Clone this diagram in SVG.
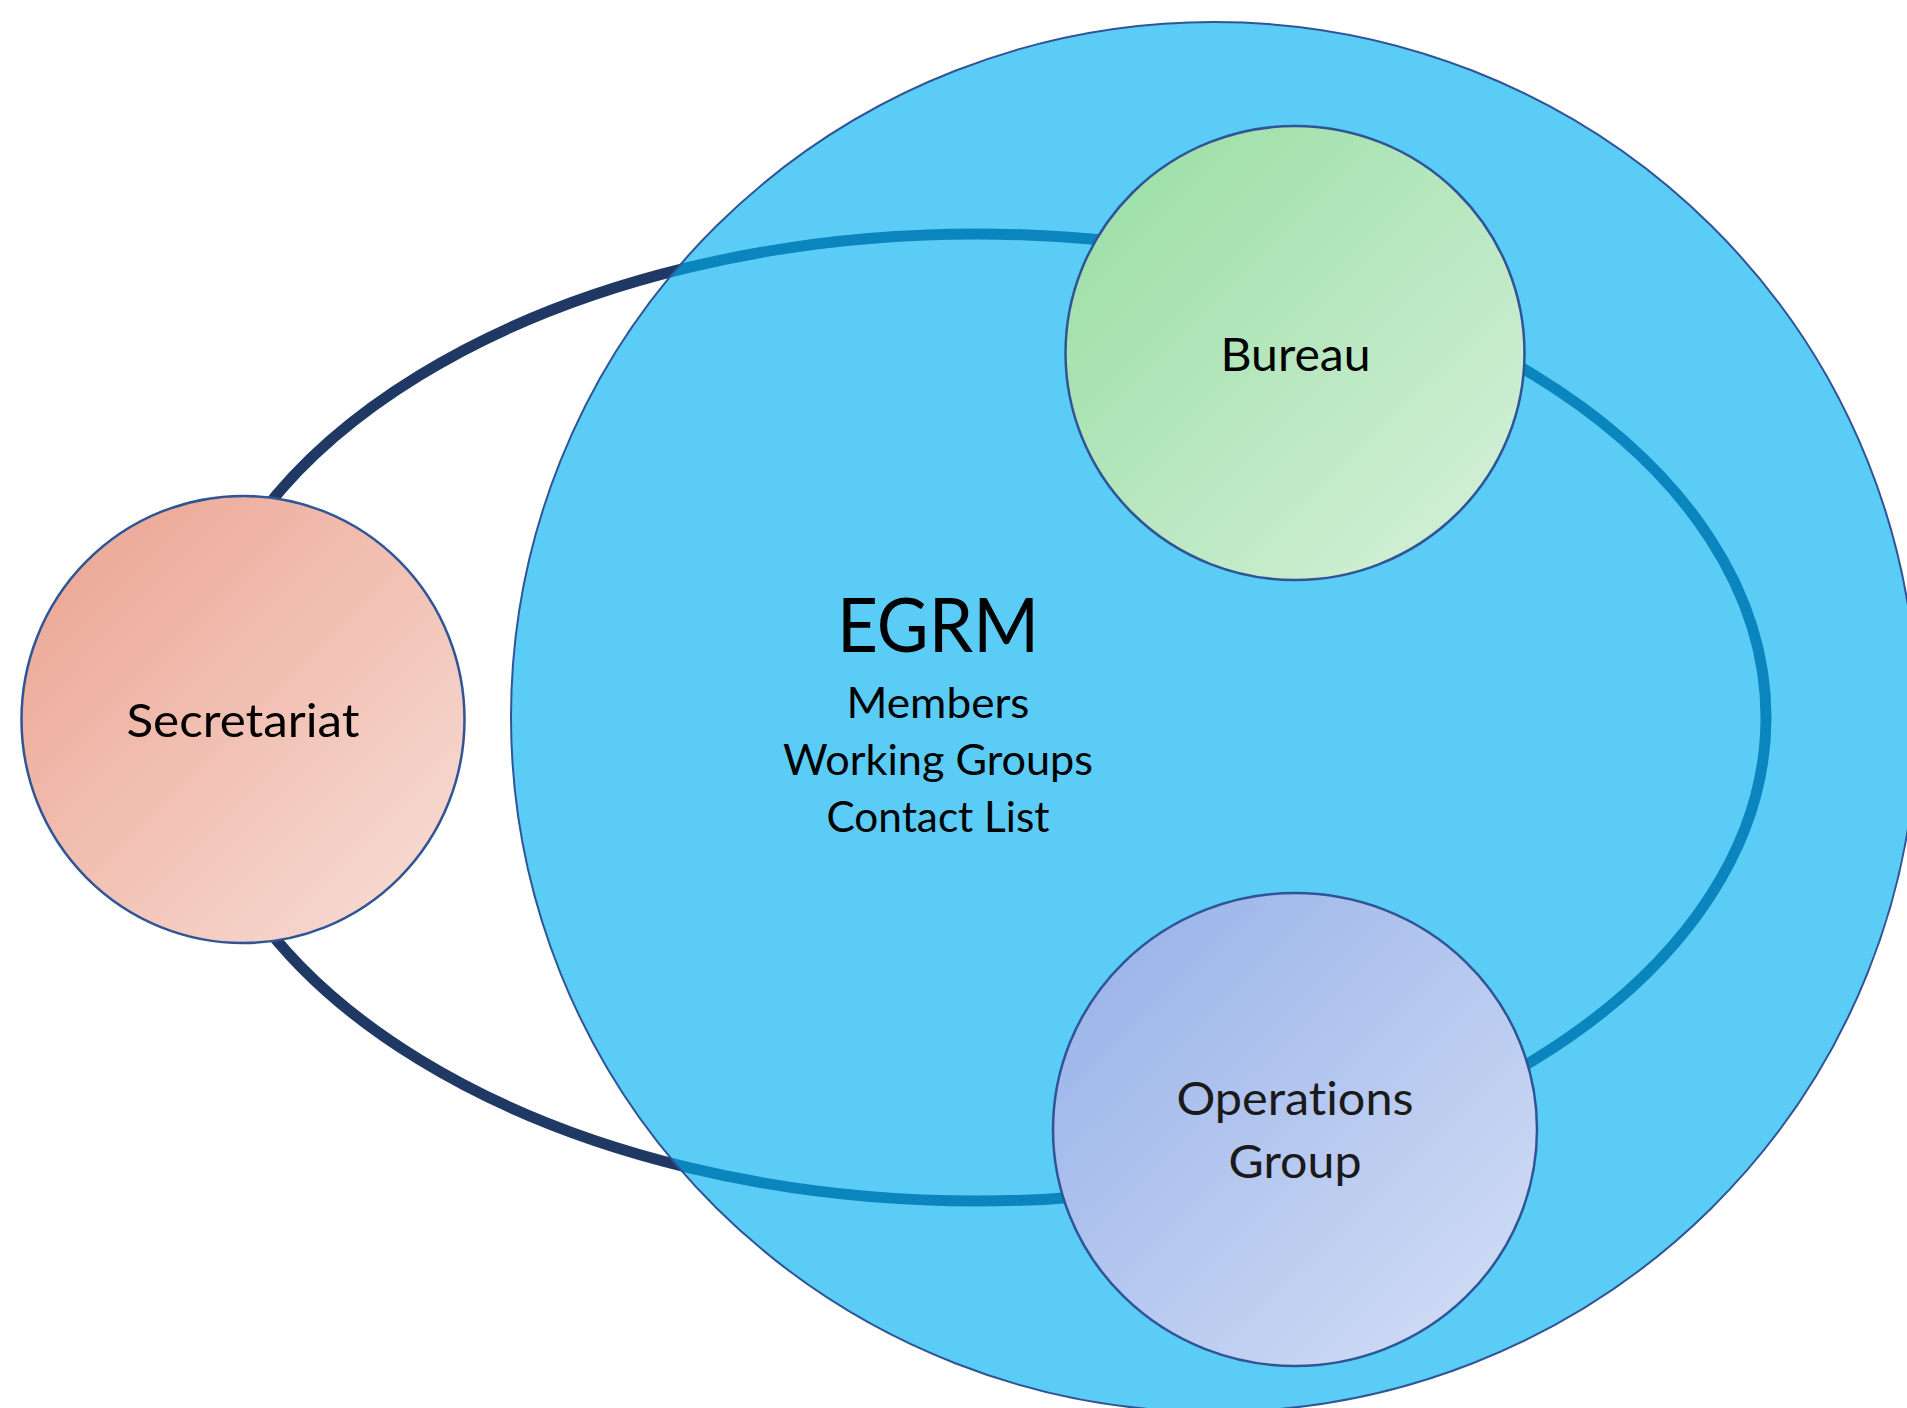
<svg xmlns="http://www.w3.org/2000/svg" width="1907" height="1408" viewBox="0 0 1907 1408">
  <style>
    .lbl { font-family: Lato, "Open Sans", "Liberation Sans", sans-serif; fill: #000; text-anchor: middle; font-variant-ligatures: none; }
    .node { stroke: #2F5597; stroke-width: 2.5; }
    .ring { fill: none; stroke: #1F3864; stroke-width: 11; }
  </style>
  <defs>
    <linearGradient id="gSec" x1="0" y1="0" x2="1" y2="1">
      <stop offset="0" stop-color="#EBA28F"/>
      <stop offset="1" stop-color="#F8DFD8"/>
    </linearGradient>
    <linearGradient id="gBur" x1="0" y1="0" x2="1" y2="1">
      <stop offset="0" stop-color="#96DDA1"/>
      <stop offset="1" stop-color="#D8F1DC"/>
    </linearGradient>
    <linearGradient id="gOps" x1="0" y1="0" x2="1" y2="1">
      <stop offset="0" stop-color="#94AFE8"/>
      <stop offset="1" stop-color="#D6E0F6"/>
    </linearGradient>
  </defs>
  <rect width="1907" height="1408" fill="#FFFFFF"/>

  <g id="connectors">
    <ellipse class="ring" cx="977" cy="717.5" rx="789" ry="483.5"/>
  </g>

  <g id="egrm">
    <ellipse cx="1214" cy="717" rx="703" ry="695" fill="#00B0F0" fill-opacity="0.643" stroke="#2F5597" stroke-width="2"/>
    <text class="lbl" x="938" y="652" font-size="76" textLength="202" lengthAdjust="spacingAndGlyphs">EGRM</text>
    <text class="lbl" x="938" y="718" font-size="42" textLength="183" lengthAdjust="spacingAndGlyphs">Members</text>
    <text class="lbl" x="938" y="775" font-size="42" textLength="310" lengthAdjust="spacingAndGlyphs">Working Groups</text>
    <text class="lbl" x="938" y="832" font-size="42" textLength="223" lengthAdjust="spacingAndGlyphs">Contact List</text>
  </g>

  <g id="secretariat">
    <ellipse class="node" cx="243" cy="719.5" rx="221.5" ry="223.5" fill="url(#gSec)"/>
    <text class="lbl" x="243" y="737" font-size="47" textLength="233" lengthAdjust="spacingAndGlyphs">Secretariat</text>
  </g>

  <g id="bureau">
    <ellipse class="node" cx="1295" cy="353" rx="229.5" ry="227" fill="url(#gBur)"/>
    <text class="lbl" x="1295.5" y="371" font-size="47" textLength="150" lengthAdjust="spacingAndGlyphs">Bureau</text>
  </g>

  <g id="operations-group">
    <ellipse class="node" cx="1295" cy="1129.5" rx="242" ry="236.5" fill="url(#gOps)"/>
    <text class="lbl" x="1295" y="1115" font-size="47" textLength="237" lengthAdjust="spacingAndGlyphs" style="fill:#1A1A1A">Operations</text>
    <text class="lbl" x="1295" y="1178" font-size="47" textLength="133" lengthAdjust="spacingAndGlyphs" style="fill:#1A1A1A">Group</text>
  </g>
</svg>
